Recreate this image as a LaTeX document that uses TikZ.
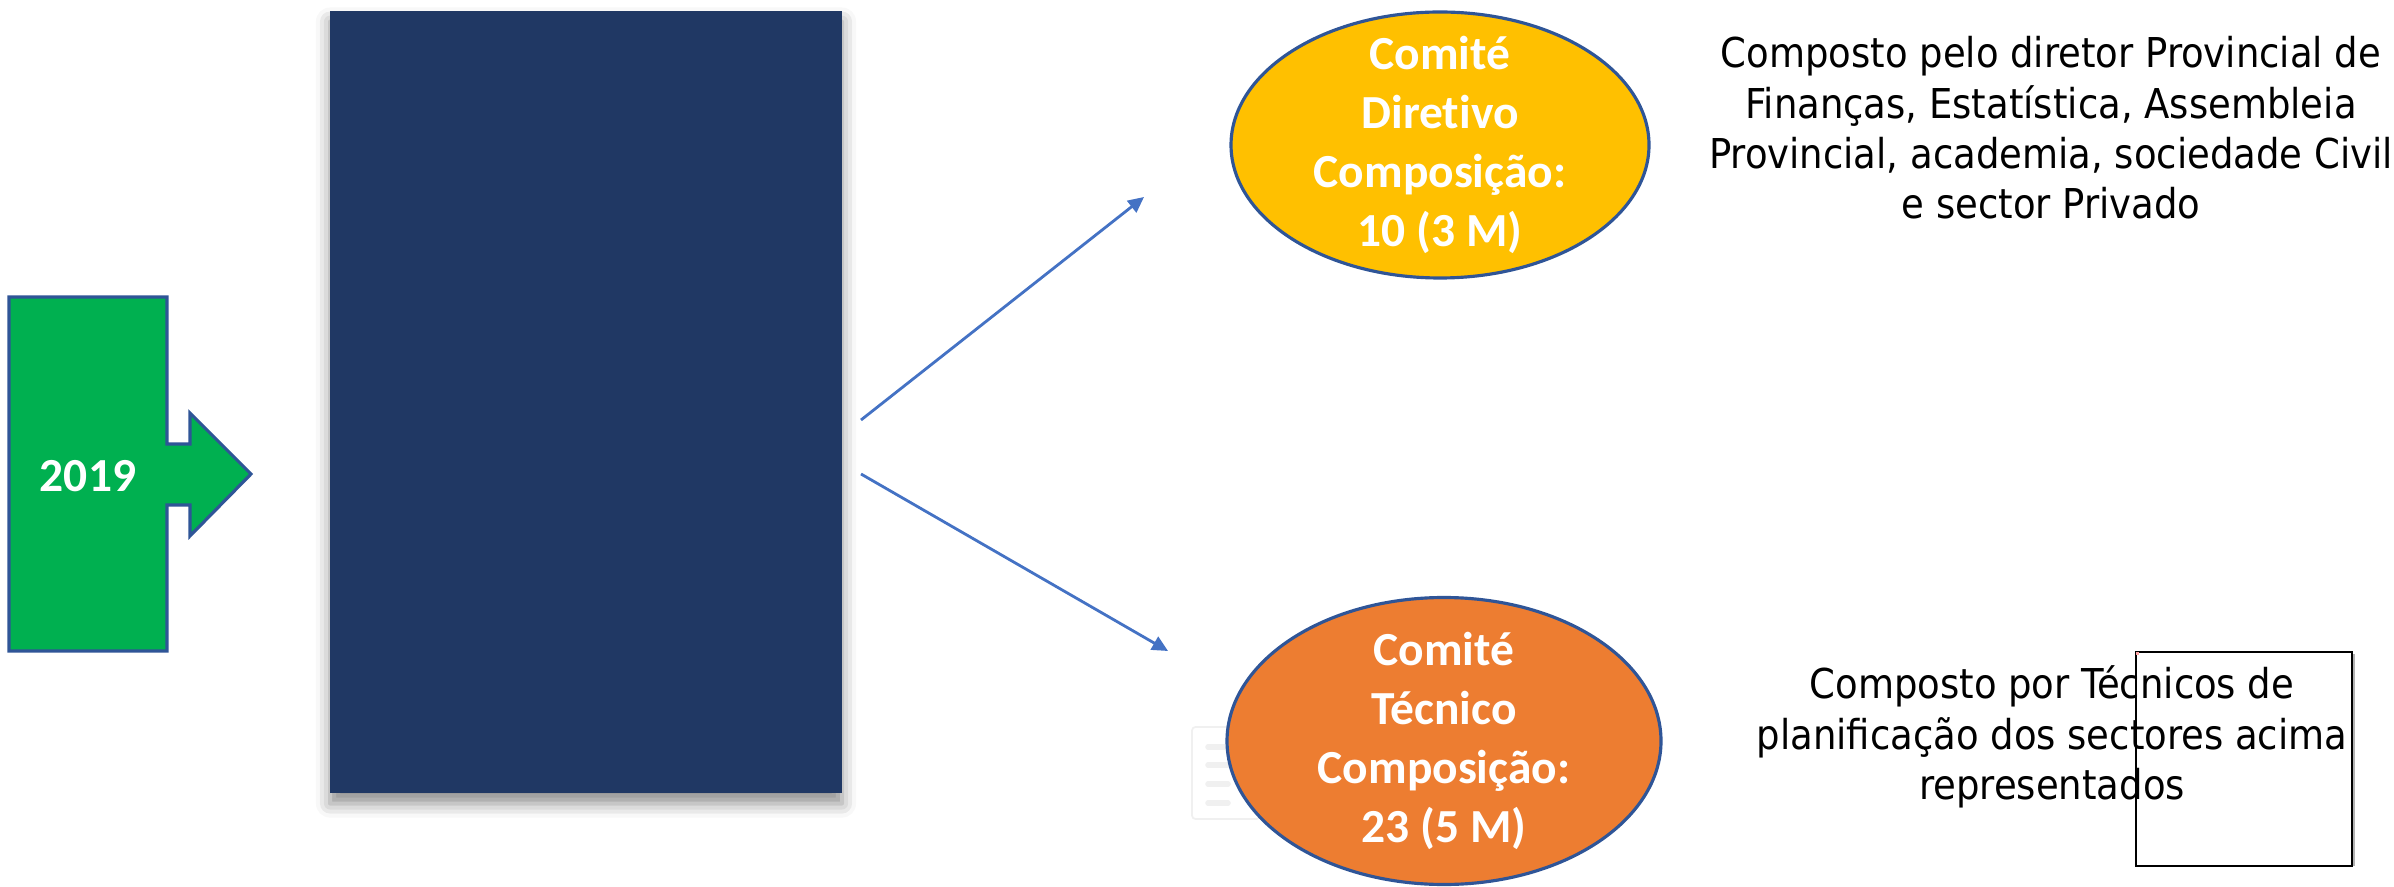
\documentclass[tikz,border=0pt]{standalone}
\usepackage{fontspec}
\setmainfont{Carlito}[Ligatures=CommonOff]
\newfontfamily\notefont{DejaVu Sans Condensed}
\usepackage{xcolor}
\usetikzlibrary{shapes,arrows.meta,positioning,calc,shadows.blur}

\definecolor{panelblue}{HTML}{203864}
\definecolor{yeargreen}{HTML}{00B050}
\definecolor{edgeblue}{HTML}{2F5597}
\definecolor{dirgold}{HTML}{FFC000}
\definecolor{tecorange}{HTML}{ED7D31}
\definecolor{linkblue}{HTML}{4472C4}

\tikzset{
  comite/.style={ellipse, draw=edgeblue, line width=0.9pt, inner sep=0pt},
  comitetext/.style={text=white, align=center, font=\fontsize{13.5}{16.8}\selectfont\bfseries},
  notetext/.style={align=center, font=\notefont\fontsize{11.7}{14.3}\selectfont},
  link/.style={draw=linkblue, line width=0.8pt, -{Triangle[length=4.5pt,width=4.2pt]}}
}

\begin{document}
\begin{tikzpicture}
    \useasboundingbox (0,0) rectangle (23.94,-8.87);

    % Year arrow
    \draw[fill=yeargreen, draw=edgeblue, line width=0.9pt] (0.09,-2.97) -- (1.67,-2.97) -- (1.67,-4.44) -- (1.90,-4.44) -- (1.90,-4.13) -- (2.51,-4.74) -- (1.90,-5.36) -- (1.90,-5.05) -- (1.67,-5.05) -- (1.67,-6.51) -- (0.09,-6.51) -- cycle;
    \node[comitetext] (year) at (0.88,-4.76) {2019};

    % Panel
    \node[rectangle, fill=panelblue, minimum width=5.12cm, minimum height=7.82cm, inner sep=0pt,
          blur shadow={shadow xshift=0pt, shadow yshift=-3pt, shadow blur radius=4pt, shadow opacity=45}] (panel) at (5.86,-4.02) {};

    % faint icon behind the lower ellipse
    \draw[black!6, line width=0.5pt, rounded corners=1pt] (11.92,-7.27) rectangle (12.60,-8.19);
    \foreach \y in {-7.47,-7.65,-7.84,-8.03}
        \draw[black!6, line width=1.6pt, line cap=round] (12.08,\y) -- (12.28,\y);

    % Committees
    \node[comite, fill=dirgold, minimum width=4.18cm, minimum height=2.66cm] (dir) at (14.40,-1.45) {};
    \node[comitetext] (dirtxt) at (dir) {Comité\\Diretivo\\Composição:\\10 (3 M)};

    \node[comite, fill=tecorange, minimum width=4.34cm, minimum height=2.87cm] (tec) at (14.44,-7.41) {};
    \node[comitetext] (tectxt) at (tec) {Comité\\Técnico\\Composição:\\23 (5 M)};

    % Links
    \coordinate (upstart) at (8.61,-4.20);
    \coordinate (upend) at (11.44,-1.97);
    \coordinate (downstart) at (8.61,-4.74);
    \coordinate (downend) at (11.68,-6.51);
    \draw[link] (upstart) -- (upend);
    \draw[link] (downstart) -- (downend);

    % Notes
    \node[notetext] (dirnote) at (20.51,-1.28) {Composto pelo diretor Provincial de\\Finanças, Estatística, Assembleia\\Provincial, academia, sociedade Civil\\e sector Privado};
    \node[notetext] (tecnote) at (20.52,-7.37) {Composto por Técnicos de\\planificação dos sectores acima\\representados};

    % empty frame
    \fill[black!30] (23.52,-6.54) rectangle (23.545,-8.66);
    \node[rectangle, draw=black, line width=0.5pt, minimum width=2.16cm, minimum height=2.14cm, inner sep=0pt] (frame) at (22.44,-7.59) {};
    \fill[red!35] ($(frame.north west)+(0.01,-0.01)$) rectangle ++(0.03,-0.03);
\end{tikzpicture}
\end{document}
